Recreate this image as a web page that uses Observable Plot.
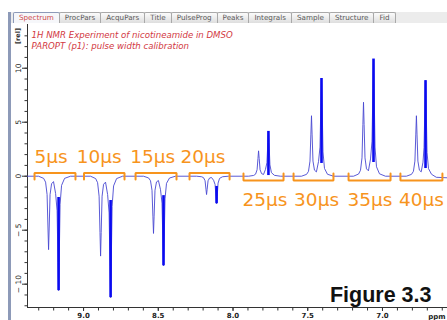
<!DOCTYPE html>
<html>
<head>
<meta charset="utf-8">
<script src="https://cdn.jsdelivr.net/npm/d3@7"></script>
<script src="https://cdn.jsdelivr.net/npm/@observablehq/plot@0.6"></script>
<style>
  html, body { margin: 0; padding: 0; background: #fff; }
  #page { position: relative; width: 447px; height: 320px; overflow: hidden; background: #fff; font-family: "DejaVu Sans", sans-serif; }
  #strip { position: absolute; left: 11px; top: 12px; right: 0; height: 11px; background: #ececec; }
  #tabs { position: absolute; left: 13px; top: 12px; height: 11px; display: flex; }
  .tab { height: 10px; line-height: 10px; padding: 0 5px; border: 1px solid #a9a9a9; border-bottom: none;
         border-radius: 2px 2px 0 0; background: linear-gradient(#fbfbfb, #dedede); font-size: 7.2px;
         color: #5a5a5a; margin-right: -1px; white-space: nowrap; }
  .tab.active { color: #cf4a4a; background: #f6f7fa; border-color: #8d9ab8; }
  #bar { position: absolute; left: 8px; top: 12px; width: 3px; height: 308px; background: #8d9ab8; }
  #chart { position: absolute; left: 0; top: 24px; }
</style>
</head>
<body>
<div id="page">
  <div id="strip"></div>
  <div id="tabs"></div>
  <div id="bar"></div>
  <div id="chart"></div>
</div>
<script>
// Viewer tabs
const tabNames = ["Spectrum", "ProcPars", "AcquPars", "Title", "PulseProg", "Peaks", "Integrals", "Sample", "Structure", "Fid"];

// Titles
const titleLines = ["1H NMR Experiment of nicotineamide in DMSO", "PAROPT (p1): pulse width calibration"];
const figureLabel = "Figure 3.3";

// Axes
const ppmRange = [6.565, 9.375];
const relRange = [-12.16, 14.05];
const xMajorTicks = [9.0, 8.5, 8.0, 7.5, 7.0];
const xMinorTicks = [9.3, 9.2, 9.1, 9.0, 8.9, 8.8, 8.7, 8.6, 8.5, 8.4, 8.3, 8.2, 8.1, 8.0, 7.9, 7.8, 7.7, 7.6, 7.5, 7.4, 7.3, 7.2, 7.1, 7.0, 6.9, 6.8, 6.7, 6.6];
const yMajorTicks = [10, 5, 0, -5, -10];
const yTickLabels = ["10", "5", "0", "\u2212 5", "\u2212 10"];
const yMinorTicks = [13, 12, 11, 10, 9, 8, 7, 6, 5, 4, 3, 2, 1, 0, -1, -2, -3, -4, -5, -6, -7, -8, -9, -10, -11, -12];

// Pulse widths of the eight increments
const pulseLabels = ["5\u03bcs", "10\u03bcs", "15\u03bcs", "20\u03bcs", "25\u03bcs", "30\u03bcs", "35\u03bcs", "40\u03bcs"];
const bracketStart = [9.328, 8.997, 8.652, 8.291, 7.930, 7.595, 7.227, 6.880];
const bracketEnd   = [9.054, 8.726, 8.378, 8.023, 7.662, 7.328, 6.946, 6.599];
const labelCenter  = [9.217, 8.896, 8.538, 8.201, 7.786, 7.441, 7.084, 6.739];

// Tallest line of each doublet (ppm, rel) and where its dense part starts
const rightPeakPpm = [9.167, 8.819, 8.465, 8.110, 7.763, 7.408, 7.060, 6.712];
const rightPeakRel = [-10.6, -11.25, -8.3, -2.55, 4.15, 9.05, 10.85, 8.85];
const rightDenseFrom = [-1.97, -2.25, -1.8, -0.95, 0.06, 1.18, 1.27, 0.71];

// Trace of each increment: [ppm, rel]
const trace5us = [[9.375, 0], [9.301, 0], [9.267, -0.2], [9.254, -0.55], [9.244, -1.7], [9.238, -4.8], [9.234, -6.8], [9.230, -4.8], [9.224, -1.7], [9.214, -0.7], [9.201, -0.5],
  [9.187, -1.6], [9.177, -3.2], [9.171, -8.0], [9.167, -10.6], [9.163, -8.0], [9.157, -2.6], [9.147, -0.85], [9.127, -0.2], [9.087, 0]];
const trace10us = [[8.953, 0], [8.919, -0.22], [8.906, -0.6], [8.896, -1.85], [8.890, -5.2], [8.886, -7.4], [8.882, -5.2], [8.876, -1.85], [8.866, -0.75], [8.853, -0.55],
  [8.839, -1.7], [8.829, -3.4], [8.823, -8.4], [8.819, -11.25], [8.815, -8.4], [8.809, -2.8], [8.799, -0.9], [8.779, -0.22], [8.739, 0]];
const trace15us = [[8.599, 0], [8.565, -0.16], [8.552, -0.42], [8.542, -1.3], [8.536, -3.7], [8.532, -5.3], [8.528, -3.7], [8.522, -1.3], [8.512, -0.53], [8.499, -0.4],
  [8.485, -1.25], [8.475, -2.5], [8.469, -6.2], [8.465, -8.3], [8.461, -6.2], [8.455, -2.1], [8.445, -0.66], [8.425, -0.17], [8.385, 0]];
const trace20us = [[8.244, 0], [8.210, -0.05], [8.197, -0.14], [8.187, -0.42], [8.181, -1.2], [8.177, -1.7], [8.173, -1.2], [8.167, -0.42], [8.157, -0.17], [8.144, -0.12],
  [8.130, -0.38], [8.120, -0.77], [8.114, -1.9], [8.110, -2.55], [8.106, -1.9], [8.100, -0.64], [8.090, -0.2], [8.070, -0.05], [8.030, 0]];
const trace25us = [[7.896, 0], [7.862, 0.07], [7.849, 0.19], [7.839, 0.6], [7.833, 1.65], [7.829, 2.35], [7.825, 1.65], [7.819, 0.6], [7.809, 0.24], [7.796, 0.16],
  [7.783, 0.62], [7.773, 1.25], [7.767, 3.1], [7.763, 4.15], [7.759, 3.1], [7.753, 1.05], [7.743, 0.33], [7.723, 0.08], [7.683, 0]];
const trace30us = [[7.542, 0], [7.508, 0.17], [7.495, 0.45], [7.485, 1.4], [7.479, 3.9], [7.475, 5.6], [7.471, 3.9], [7.465, 1.4], [7.455, 0.56], [7.442, 0.4],
  [7.428, 1.35], [7.418, 2.7], [7.412, 6.8], [7.408, 9.05], [7.404, 6.8], [7.398, 2.25], [7.388, 0.72], [7.368, 0.18], [7.328, 0]];
const trace35us = [[7.194, 0], [7.160, 0.2], [7.147, 0.55], [7.137, 1.7], [7.131, 4.8], [7.127, 6.85], [7.123, 4.8], [7.117, 1.7], [7.107, 0.68], [7.094, 0.5],
  [7.080, 1.6], [7.070, 3.25], [7.064, 8.1], [7.060, 10.85], [7.056, 8.1], [7.050, 2.7], [7.040, 0.87], [7.020, 0.22], [6.980, 0]];
const trace40us = [[6.840, 0], [6.806, 0.17], [6.793, 0.45], [6.783, 1.4], [6.777, 3.9], [6.773, 5.6], [6.769, 3.9], [6.763, 1.4], [6.753, 0.56], [6.741, 0.4],
  [6.729, 1.3], [6.722, 2.65], [6.716, 6.6], [6.712, 8.85], [6.708, 6.6], [6.702, 2.2], [6.692, 0.7], [6.672, 0.18], [6.640, -0.1], [6.565, -0.15]];

// ---- tabs ----
const tabs = document.getElementById("tabs");
tabNames.forEach((name, i) => {
  const t = document.createElement("div");
  t.className = "tab" + (i === 0 ? " active" : "");
  t.textContent = name;
  tabs.appendChild(t);
});

// ---- spectrum ----
const orange = "#f7941d";
const spectrum = [trace5us, trace10us, trace15us, trace20us, trace25us, trace30us, trace35us, trace40us]
  .flat().map(([ppm, rel]) => ({ppm, rel}));

const peaks = rightPeakPpm.map((ppm, i) => ({ppm, rel: rightPeakRel[i], from: rightDenseFrom[i]}));

// Brackets sit above the baseline for inverted increments, below for upright ones
const brackets = [];
const labels = [];
pulseLabels.forEach((label, i) => {
  const up = rightPeakRel[i] < 0;
  const yLine = up ? 0.3 : -0.4, yEnd = up ? -0.3 : 0.25;
  brackets.push({i, ppm: bracketStart[i], rel: yEnd}, {i, ppm: bracketStart[i], rel: yLine},
                {i, ppm: bracketEnd[i], rel: yLine}, {i, ppm: bracketEnd[i], rel: yEnd});
  labels.push({ppm: labelCenter[i], rel: up ? 1.18 : -2.76, label});
});

const chart = Plot.plot({
  width: 447,
  height: 296,
  marginLeft: 27,
  marginRight: 0,
  marginTop: 0,
  marginBottom: 13,
  style: {fontFamily: "DejaVu Sans, sans-serif", fontSize: "7.5px", color: "#222", background: "transparent", overflow: "visible"},
  x: {domain: ppmRange, reverse: true},
  y: {domain: relRange},
  marks: [
    // axes
    Plot.ruleX([ppmRange[1]], {stroke: "#333", strokeWidth: 1}),
    Plot.ruleY([relRange[0]], {stroke: "#333", strokeWidth: 1}),
    Plot.axisY({ticks: yMinorTicks, tickSize: 2.5, tickFormat: () => "", label: null, stroke: "#333"}),
    Plot.axisY({ticks: yMajorTicks, tickSize: 5, tickFormat: () => "", label: null, stroke: "#333"}),
    Plot.text(yMajorTicks, {y: d => d, text: (d, i) => yTickLabels[i], frameAnchor: "left", dx: -9,
      rotate: -90, textAnchor: "middle", lineAnchor: "middle", fontSize: 7.5, fill: "#222"}),
    Plot.axisX({ticks: xMinorTicks, tickSize: 3.5, tickFormat: () => "", label: null, stroke: "#333"}),
    Plot.axisX({ticks: xMajorTicks, tickSize: 4, tickPadding: 2, tickFormat: d3.format(".1f"), label: null,
      stroke: "#333", fontSize: 7, fontWeight: 600, fill: "#222"}),
    Plot.text(["ppm"], {frameAnchor: "bottom-right", dx: -2, dy: 11, textAnchor: "end", lineAnchor: "bottom",
      fontSize: 7, fontWeight: 600, fill: "#222"}),
    Plot.text(["[rel]"], {frameAnchor: "top-left", dx: -10, dy: 11.5, rotate: -90, textAnchor: "middle",
      lineAnchor: "middle", fontSize: 6.5, fontWeight: "bold", fill: "#333"}),

    // title lines
    Plot.text([titleLines.join("\n")], {frameAnchor: "top-left", dx: 4, dy: 5.9, textAnchor: "start",
      lineAnchor: "top", lineHeight: 1.28, fontSize: 8.6, fontStyle: "italic", fill: "#d2393f"}),

    // spectrum trace and the dense tall lines
    Plot.line(spectrum, {x: "ppm", y: "rel", stroke: "#4848d2", strokeWidth: 1, strokeOpacity: 0.9}),
    Plot.ruleX(peaks, {x: "ppm", y1: "from", y2: "rel", stroke: "#0a0af0", strokeWidth: 2.6}),

    // increments
    Plot.line(brackets, {x: "ppm", y: "rel", z: "i", stroke: orange, strokeWidth: 2, strokeLinejoin: "miter"}),
    Plot.text(labels, {x: "ppm", y: "rel", text: "label", textAnchor: "middle", lineAnchor: "bottom",
      fontSize: 18.5, fill: orange}),

    Plot.text([figureLabel], {frameAnchor: "bottom-right", dx: -16, dy: -6, textAnchor: "end", lineAnchor: "bottom",
      fontFamily: "Liberation Sans, Arial, sans-serif", fontWeight: "bold", fontSize: 21.5, fill: "#111"})
  ]
});
document.getElementById("chart").appendChild(chart);
</script>
</body>
</html>
